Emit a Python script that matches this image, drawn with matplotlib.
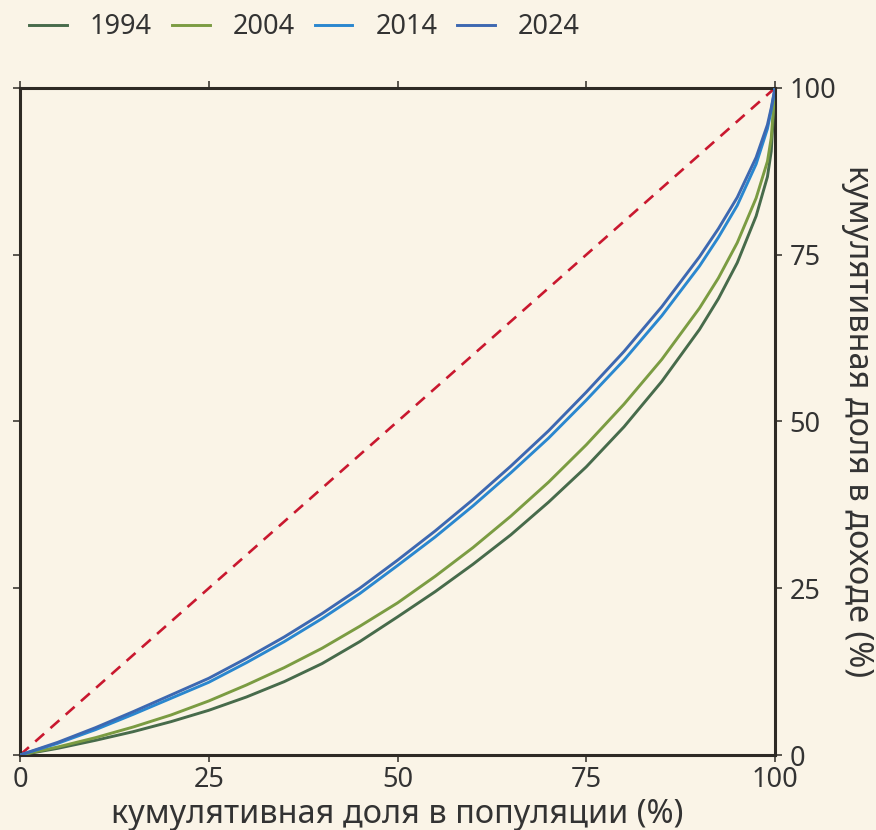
import matplotlib.pyplot as plt

# ---- Data ----
population = [0, 5, 10, 15, 20, 25, 30, 35, 40, 45, 50, 55, 60, 65, 70, 75,
              80, 85, 90, 92.5, 95, 97.5, 99, 99.5, 100]
share_1994 = [0, 1.0, 2.2, 3.5, 5.0, 6.7, 8.7, 11.0, 13.7, 17.0, 20.7, 24.5, 28.6, 33.0, 37.9, 43.2,
              49.2, 56.0, 63.8, 68.4, 73.8, 80.8, 86.7, 90.5, 100]
share_2004 = [0, 1.2, 2.6, 4.2, 6.0, 8.1, 10.5, 13.1, 16.0, 19.3, 22.8, 26.8, 31.1, 35.8, 40.9, 46.5,
              52.6, 59.3, 67.0, 71.5, 76.8, 83.5, 89.0, 92.5, 100]
share_2014 = [0, 1.75, 3.8, 6.1, 8.5, 10.9, 13.85, 17.0, 20.45, 24.2, 28.4, 32.7, 37.35, 42.3, 47.5, 53.2,
              59.2, 65.85, 73.3, 77.6, 82.4, 88.6, 93.9, 96.7, 100]
share_2024 = [0, 1.9, 4.1, 6.5, 9.0, 11.5, 14.5, 17.7, 21.2, 25.0, 29.2, 33.6, 38.3, 43.3, 48.6, 54.4,
              60.5, 67.2, 74.7, 78.9, 83.6, 89.6, 94.5, 97.0, 100]
years = ["1994", "2004", "2014", "2024"]
ticks = [0, 25, 50, 75, 100]

colors = ["#476b4b", "#7b9c42", "#2a87cf", "#3d68b1"]
bg = "#faf4e7"
ink = "#2e2a25"
text_c = "#333333"

plt.rcParams['font.family'] = ['Noto Sans', 'DejaVu Sans']

fig = plt.figure(figsize=(8.76, 8.30), dpi=100, facecolor=bg)
ax = fig.add_axes([20 / 876, 75 / 830, 755 / 876, 667 / 830], facecolor=bg)

# equality line
ax.plot([0, 100], [0, 100], color="#c9182f", lw=1.9, ls=(0, (4.5, 3.2)), zorder=2)

for year, share, c in zip(years, [share_1994, share_2004, share_2014, share_2024], colors):
    ax.plot(population, share, color=c, lw=2.1, label=year, zorder=3)

ax.set_xlim(0, 100)
ax.set_ylim(0, 100)
ax.set_xticks(ticks)
ax.set_yticks(ticks)

for side in ax.spines.values():
    side.set_color(ink)
    side.set_linewidth(2.2)

ax.tick_params(axis='both', which='both', direction='out', length=5, width=1.1,
               color=ink, labelcolor=text_c, labelsize=19.5,
               top=True, bottom=True, left=True, right=True,
               labelleft=False, labelright=True, labelbottom=True, labeltop=False)
ax.tick_params(axis='y', pad=5.5)
ax.tick_params(axis='x', pad=3)

ax.set_xlabel("кумулятивная доля в популяции (%)", fontsize=23.4, color=text_c, labelpad=2.5)
ax.yaxis.set_label_position('right')
ax.set_ylabel("кумулятивная доля в доходе (%)", fontsize=23.4, color=text_c,
              rotation=270, labelpad=27)

leg = fig.legend(loc='upper left', bbox_to_anchor=(29 / 876, 0.984), ncol=4, frameon=False,
                 borderpad=0, borderaxespad=0, fontsize=19.5, handlelength=1.4,
                 handletextpad=0.85, columnspacing=0.73)
for t in leg.get_texts():
    t.set_color(text_c)

fig.savefig("out.png", dpi=100, facecolor=bg)
